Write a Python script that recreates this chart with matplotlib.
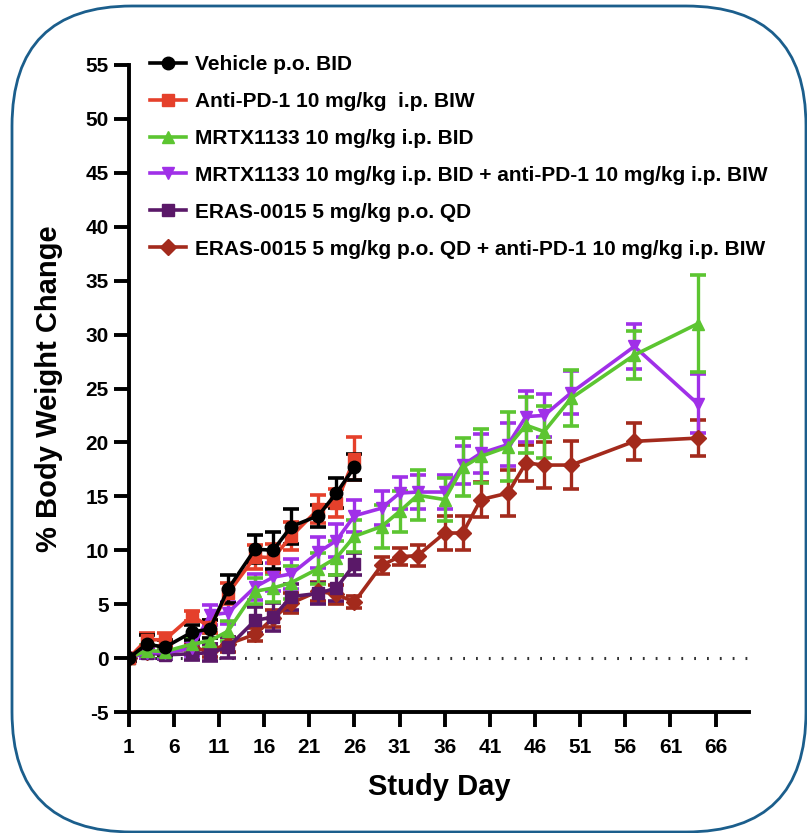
import matplotlib
matplotlib.use("Agg")
import matplotlib.pyplot as plt
from matplotlib.patches import FancyBboxPatch
from matplotlib.transforms import IdentityTransform
from matplotlib.lines import Line2D

plt.rcParams['font.family'] = ['Liberation Sans', 'DejaVu Sans']
plt.rcParams['font.weight'] = 'bold'
plt.rcParams['axes.unicode_minus'] = False

# ---------------- data ----------------
days_long = [1, 3, 5, 8, 10, 12, 15, 17, 19, 22, 24, 26, 29, 31, 33, 36, 38, 40, 43, 45, 47, 50, 57, 64]
days_short = [1, 3, 5, 8, 10, 12, 15, 17, 19, 22, 24, 26]

labels = [
    "Vehicle p.o. BID",
    "Anti-PD-1 10 mg/kg  i.p. BIW",
    "MRTX1133 10 mg/kg i.p. BID",
    "MRTX1133 10 mg/kg i.p. BID + anti-PD-1 10 mg/kg i.p. BIW",
    "ERAS-0015 5 mg/kg p.o. QD",
    "ERAS-0015 5 mg/kg p.o. QD + anti-PD-1 10 mg/kg i.p. BIW",
]

vehicle = [0, 1.3, 1.0, 2.4, 2.7, 6.4, 10.1, 10.0, 12.2, 13.2, 15.3, 17.7]
vehicle_err = [0.3, 0.8, 0.7, 0.7, 0.8, 1.3, 1.3, 1.7, 1.6, 1.0, 1.4, 1.2]

anti_pd1 = [0, 1.7, 1.7, 3.9, 2.9, 6.0, 9.4, 9.3, 11.3, 13.8, 14.4, 18.5]
anti_pd1_err = [0.3, 0.6, 0.6, 0.5, 0.6, 1.0, 1.1, 1.3, 1.3, 1.3, 1.3, 2.0]

mrtx = [0, 0.7, 0.6, 1.3, 1.6, 2.5, 6.2, 6.5, 7.0, 8.3, 9.3, 11.3,
        12.2, 13.6, 15.1, 14.7, 17.7, 18.7, 19.6, 21.6, 21.0, 24.1, 28.1, 31.0]
mrtx_err = [0.3, 0.5, 0.4, 0.6, 0.7, 0.9, 1.2, 1.3, 1.5, 1.4, 1.6, 1.5,
            2.0, 1.9, 2.3, 2.0, 2.7, 2.5, 3.2, 2.6, 2.4, 2.6, 2.2, 4.5]

mrtx_combo = [0, 0.5, 0.5, 0.9, 4.0, 4.2, 6.6, 7.5, 7.8, 9.8, 10.9, 13.2,
              13.9, 15.3, 15.4, 15.4, 17.9, 19.0, 19.8, 22.4, 22.5, 24.6, 28.9, 23.6]
mrtx_combo_err = [0.3, 0.5, 0.5, 0.7, 0.9, 1.0, 1.2, 1.3, 1.4, 1.4, 1.5, 1.5,
                  1.6, 1.5, 1.6, 1.6, 1.8, 1.8, 2.0, 2.4, 2.0, 2.0, 2.1, 2.7]

eras = [0, 0.5, 0.3, 0.4, 0.5, 1.0, 3.5, 3.8, 5.7, 6.0, 6.5, 8.7]
eras_err = [0.3, 0.5, 0.4, 0.6, 0.8, 1.0, 1.2, 1.3, 1.2, 1.0, 1.2, 1.0]

eras_combo = [0, 0.6, 0.5, 0.9, 0.7, 1.3, 2.2, 3.7, 5.1, 6.2, 5.9, 5.2,
              8.6, 9.4, 9.5, 11.6, 11.6, 14.7, 15.3, 18.1, 17.9, 17.9, 20.1, 20.4]
eras_combo_err = [0.3, 0.4, 0.4, 0.5, 0.6, 0.7, 0.6, 0.8, 0.9, 0.9, 0.9, 0.6,
                  0.8, 0.8, 1.0, 1.6, 1.6, 1.6, 2.1, 1.7, 2.1, 2.2, 1.7, 1.7]

x_ticks = [1, 6, 11, 16, 21, 26, 31, 36, 41, 46, 51, 56, 61, 66]
y_ticks = [-5, 0, 5, 10, 15, 20, 25, 30, 35, 40, 45, 50, 55]

# ---------------- figure ----------------
W, H = 807, 833
fig = plt.figure(figsize=(W / 100, H / 100), dpi=100)
ax = fig.add_axes([128.7 / W, (H - 712) / H, (749 - 128.7) / W, (712 - 65) / H])

series = [
    (days_long, eras_combo, eras_combo_err, '#A32A1C', 'D', 8, labels[5]),
    (days_short, eras, eras_err, '#5A1868', 's', 8, labels[4]),
    (days_long, mrtx_combo, mrtx_combo_err, '#A030E8', 'v', 9, labels[3]),
    (days_long, mrtx, mrtx_err, '#5CC531', '^', 9, labels[2]),
    (days_short, anti_pd1, anti_pd1_err, '#E5402B', 's', 9, labels[1]),
    (days_short, vehicle, vehicle_err, '#000000', 'o', 9, labels[0]),
]

for xs, ys, es, c, m, ms, lab in series:
    ax.errorbar(xs, ys, yerr=es, color=c, marker=m, markersize=ms, lw=2.6,
                elinewidth=2.4, capsize=5.5, capthick=2.6, label=lab)

ax.axhline(0, color='#333333', lw=2.2, ls=(0, (0.6, 3.6)), zorder=0)

ax.set_xlim(1, 69.7)
ax.set_ylim(-5, 55)
ax.set_xticks(x_ticks)
ax.set_yticks(y_ticks)
ax.tick_params(axis='both', which='major', labelsize=15, width=2.8, length=11, direction='out')
ax.tick_params(axis='x', pad=8)
for lbl in ax.get_xticklabels() + ax.get_yticklabels():
    lbl.set_fontweight('bold')

for s in ['top', 'right']:
    ax.spines[s].set_visible(False)
for s in ['left', 'bottom']:
    ax.spines[s].set_linewidth(2.8)

ax.set_xlabel("Study Day", fontsize=21, fontweight='bold', labelpad=11)
ax.set_ylabel("% Body Weight Change", fontsize=21, fontweight='bold', labelpad=16)

leg_handles = []
for lab in labels:
    for xs, ys, es, c, m, ms, l in series:
        if l == lab:
            leg_handles.append(Line2D([], [], color=c, marker=m, markersize=ms, lw=2.6))
leg = fig.legend(leg_handles, labels, loc='upper left',
                 bbox_to_anchor=(150 / W, (H - 55) / H), frameon=False,
                 prop={'size': 15, 'weight': 'bold'}, handlelength=1.75,
                 handletextpad=0.4, labelspacing=0.86, borderpad=0, borderaxespad=0)

# rounded border
border = FancyBboxPatch((12, 1), 794, 826, boxstyle="round,pad=0,rounding_size=120",
                        transform=IdentityTransform(), fill=False,
                        edgecolor='#1B5E8C', linewidth=2.0)
fig.patches.append(border)

fig.savefig("out.png", dpi=100)
